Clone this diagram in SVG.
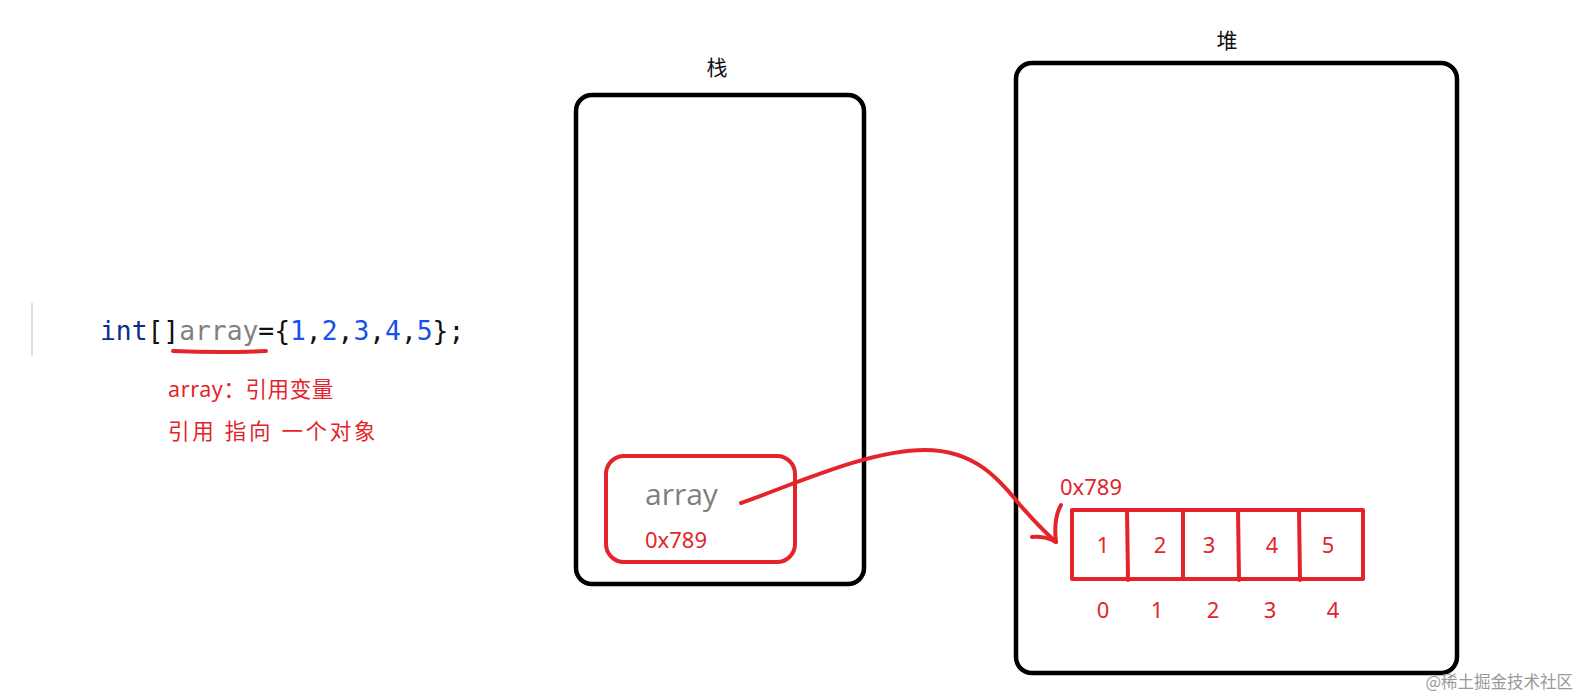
<svg xmlns="http://www.w3.org/2000/svg" width="1580" height="699" viewBox="0 0 1580 699">
<style>
.box{fill:none;stroke:#000;stroke-width:4.5}
.red{fill:none;stroke:#e3242b;stroke-width:4;stroke-linecap:round;stroke-linejoin:round}
.code{font-family:"DejaVu Sans Mono","Liberation Mono",monospace;font-size:26.3px}
.rt{font-family:"Noto Sans","Noto Sans CJK SC",sans-serif;fill:#e3242b}
.cjk{font-family:"Noto Sans CJK SC",sans-serif}
</style>
<rect width="1580" height="699" fill="#fff"/>
<g id="code">
<line x1="32" y1="303" x2="32" y2="356" stroke="#dcdcdc" stroke-width="2"/>
<text class="code" x="100" y="340"><tspan fill="#0d2d8f">int</tspan><tspan fill="#111">[]</tspan><tspan fill="#808080">array</tspan><tspan fill="#111">={</tspan><tspan fill="#1750eb">1</tspan><tspan fill="#111">,</tspan><tspan fill="#1750eb">2</tspan><tspan fill="#111">,</tspan><tspan fill="#1750eb">3</tspan><tspan fill="#111">,</tspan><tspan fill="#1750eb">4</tspan><tspan fill="#111">,</tspan><tspan fill="#1750eb">5</tspan><tspan fill="#111">};</tspan></text>
<path class="red" d="M173 351 Q220 353 266 351"/>
<text class="rt" x="168" y="397" font-size="21.5" letter-spacing="0.6">array：引用变量</text>
<text class="rt" x="168" y="439" font-size="21.5" letter-spacing="2.7">引用 指向 一个对象</text>
</g>
<g id="stack">
<text class="cjk" x="717" y="75" font-size="21" text-anchor="middle" fill="#111">栈</text>
<rect class="box" x="576" y="95" width="288" height="489" rx="16"/>
</g>
<g id="stack-var">
<rect class="red" x="606" y="456" width="189" height="106" rx="18"/>
<text x="645" y="505" font-family="Open Sans, Noto Sans, sans-serif" font-size="30" fill="#7f7f7f">array</text>
<text class="rt" x="645" y="548" font-size="22">0x789</text>
</g>
<g id="heap">
<text class="cjk" x="1227" y="48" font-size="21" text-anchor="middle" fill="#111">堆</text>
<rect class="box" x="1016" y="63" width="441" height="610" rx="16"/>
</g>
<g id="heap-array">
<text class="rt" x="1060" y="495" font-size="22">0x789</text>
<rect class="red" x="1072" y="510" width="291" height="69"/>
<path class="red" d="M1127 510 L1128 580 M1183 510 L1183 579 M1238 510 L1239 580 M1299 510 L1300 580"/>
<g class="rt" font-size="22" text-anchor="middle">
<text x="1103" y="553">1</text><text x="1160" y="553">2</text><text x="1209" y="553">3</text><text x="1272" y="553">4</text><text x="1328" y="553">5</text>
<text x="1103" y="618">0</text><text x="1157" y="618">1</text><text x="1213" y="618">2</text><text x="1270" y="618">3</text><text x="1333" y="618">4</text>
</g>
</g>
<g id="connectors">
<path class="red" d="M741 503 C800 482 870 450 925 450 C975 450 1000 480 1020 505 C1035 522 1048 535 1056 542"/>
<path class="red" d="M1061 505 C1057 512 1054 525 1056 542 C1050 538 1040 536 1032 537"/>
</g>
<text class="cjk" x="1573" y="688" font-size="16.5" text-anchor="end" fill="#9a9a9a">@稀土掘金技术社区</text>
</svg>
